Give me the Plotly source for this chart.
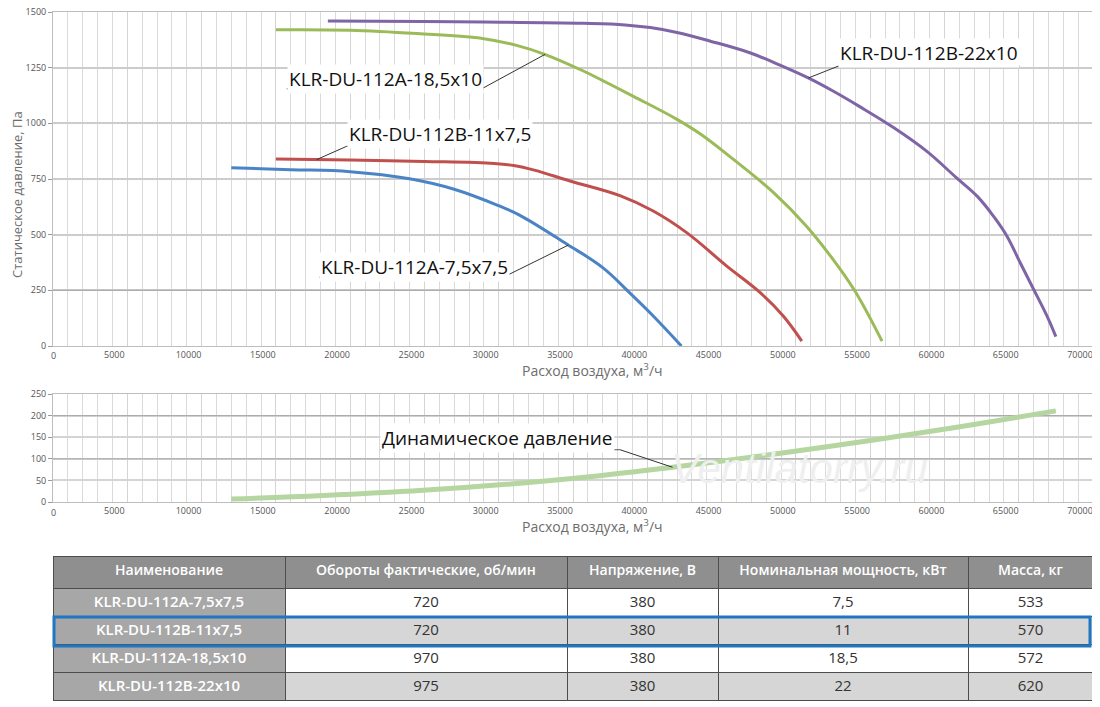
import numpy as np
import plotly.graph_objects as go

# --- fan curves: air flow (m3/h) vs static pressure (Pa)
q_75 = [12000, 16000, 20000, 24000, 27000, 30000, 31400, 34600, 37000, 38800, 40400, 42300]
p_75 = [800, 792, 783, 751, 704, 630, 588, 457, 352, 240, 135, 0]

q_11 = [15000, 20000, 25000, 29700, 31000, 32400, 34800, 38200, 40400, 42650, 45350, 47600, 49150, 50400]
p_11 = [840, 835, 829, 820, 811, 790, 741, 674, 606, 509, 359, 240, 135, 22]

q_185 = [15000, 20000, 24500, 29000, 31200, 33100, 35700, 37000, 39100, 42000, 43600, 45800, 48500, 50700, 52500, 53900, 54800, 55800]
p_185 = [1420, 1418, 1403, 1380, 1350, 1310, 1235, 1192, 1120, 1018, 951, 838, 689, 539, 389, 255, 150, 22]

q_22 = [18500, 25000, 29000, 35700, 38500, 40200, 42000, 44200, 46900, 48800, 50800, 52500, 54300,
        56600, 58800, 60800, 62200, 63300, 64200, 65100, 66000, 66900, 67500]
p_22 = [1460, 1457, 1455, 1449, 1442, 1430, 1408, 1370, 1317, 1265, 1205, 1145, 1075,
        980, 875, 756, 673, 583, 494, 374, 255, 135, 42]

# dynamic pressure
q_dyn = [12000, 18200, 24900, 30500, 36800, 42100, 48600, 55700, 62800, 67500]
p_dyn = [7, 15, 27, 41, 61, 82, 111, 146, 184, 211]

# --- table
headers = ["Наименование", "Обороты фактические, об/мин", "Напряжение, В",
           "Номинальная мощность, кВт", "Масса, кг"]
names = ["KLR-DU-112A-7,5x7,5", "KLR-DU-112B-11x7,5", "KLR-DU-112A-18,5x10", "KLR-DU-112B-22x10"]
rpm = [720, 720, 970, 975]
voltage = [380, 380, 380, 380]
power = ["7,5", "11", "18,5", "22"]
mass = [533, 570, 572, 620]

W, H = 1100, 707
OFF = 8  # page body margin
FONT = "Open Sans"
GRAY = "#6d6d6d"

def px_x(p):
    return (p - OFF) / W

def px_y(p):
    return 1 - (p - OFF) / H

fig = go.Figure()

curves = [
    (q_75, p_75, "#4a84c6", names[0]),
    (q_11, p_11, "#c0504d", names[1]),
    (q_185, p_185, "#9bbb59", names[2]),
    (q_22, p_22, "#7f64a6", names[3]),
]
for q, p, c, n in curves:
    fig.add_trace(go.Scatter(x=q, y=p, mode="lines", name=n,
                             line=dict(color=c, width=3, shape="spline", smoothing=1.1),
                             xaxis="x", yaxis="y"))

fig.add_trace(go.Scatter(x=q_dyn, y=p_dyn, mode="lines", name="Динамическое давление",
                         line=dict(color="#b5d6a0", width=5, shape="spline", smoothing=1.1),
                         xaxis="x2", yaxis="y2"))

fig.add_trace(go.Table(
    domain=dict(x=[px_x(53), px_x(1093)], y=[px_y(704), px_y(556)]),
    columnwidth=[232, 282, 151, 250, 125],
    header=dict(values=headers, fill_color="#8f8f8f", height=32,
                line=dict(color="#4d4d4d", width=1),
                font=dict(family=FONT, size=14, color="white", weight=600), align="center"),
    cells=dict(values=[names, rpm, voltage, power, mass], height=28,
               fill_color=[["#a7a7a7"] * 4] + [["white", "#d6d6d6", "white", "#d6d6d6"]] * 4,
               line=dict(color="#4d4d4d", width=1),
               font=dict(family=FONT, size=15,
                         color=[["white"] * 4] + [["#333333"] * 4] * 4,
                         weight=[600, 400, 400, 400, 400]),
               align="center"),
))

# label, text left x, text y, underline y, underline right x, leader start side, curve index, curve x
labels = [
    ("KLR-DU-112A-18,5x10", 15730, 1200, 1155, 28855, "right", 2, 33115),
    ("KLR-DU-112B-11x7,5", 19770, 953, 897, 31990, "left", 1, 17750),
    ("KLR-DU-112A-7,5x7,5", 17925, 354, 309, 30310, "right", 0, 34685),
    ("KLR-DU-112B-22x10", 52857, 1317, 1257, 65087, "left", 3, 50840),
]

annotations = []
shapes = []
for txt, x0, ty, uy, x1, side, ci, cx in labels:
    annotations.append(dict(x=x0, y=ty, xref="x", yref="y", text=txt, showarrow=False,
                            xanchor="left", yanchor="middle", bgcolor="white", borderpad=1,
                            font=dict(family=FONT, size=19, color="#111111")))
    shapes.append(dict(type="line", xref="x", yref="y", x0=x0, x1=x1, y0=uy, y1=uy,
                       line=dict(color="#555555", width=1)))
    sx = x1 if side == "right" else x0
    cy = float(np.interp(cx, curves[ci][0], curves[ci][1]))
    shapes.append(dict(type="line", xref="x", yref="y", x0=sx, y0=uy, x1=cx, y1=cy,
                       line=dict(color="#333333", width=1)))

# dynamic pressure label
annotations.append(dict(x=22010, y=149, xref="x2", yref="y2", text="Динамическое давление",
                        showarrow=False, xanchor="left", yanchor="middle", bgcolor="white",
                        borderpad=1, font=dict(family=FONT, size=19, color="#111111")))
shapes.append(dict(type="line", xref="x2", yref="y2", x0=22010, x1=38164, y0=121, y1=121,
                   line=dict(color="#555555", width=1)))
shapes.append(dict(type="line", xref="x2", yref="y2", x0=38164, y0=121, x1=41700,
                   y1=float(np.interp(41700, q_dyn, p_dyn)), line=dict(color="#333333", width=1)))

# "0" tick labels of the x axes (the others are shifted left)
for yref_px in [355, 512]:
    annotations.append(dict(x=0, y=px_y(yref_px), xref="x", yref="paper", text="0", showarrow=False,
                            xanchor="center", yanchor="middle",
                            font=dict(family=FONT, size=9, color="#555555")))

# axis titles
for yref_px in [370, 526]:
    annotations.append(dict(x=px_x(592), y=px_y(yref_px), xref="paper", yref="paper",
                            text="Расход воздуха, м<sup>3</sup>/ч", showarrow=False,
                            xanchor="center", yanchor="middle",
                            font=dict(family=FONT, size=14, color=GRAY)))
annotations.append(dict(x=px_x(17), y=px_y(195), xref="paper", yref="paper",
                        text="Статическое давление, Па", showarrow=False, textangle=-90,
                        xanchor="center", yanchor="middle",
                        font=dict(family=FONT, size=13, color=GRAY)))

# darker horizontal grid lines
for yv in [250]:
    shapes.append(dict(type="line", xref="x", yref="y", x0=0, x1=70000, y0=yv, y1=yv,
                       layer="between", line=dict(color="#a8a8a8", width=1)))
for yv in [100, 200]:
    shapes.append(dict(type="line", xref="x2", yref="y2", x0=0, x1=70000, y0=yv, y1=yv,
                       layer="between", line=dict(color="#a8a8a8", width=1)))

# highlighted table row
shapes.append(dict(type="rect", xref="paper", yref="paper",
                   x0=px_x(54), x1=px_x(1090), y0=px_y(646), y1=px_y(617),
                   line=dict(color="#2176c2", width=3)))

# watermark
annotations.append(dict(x=px_x(930), y=px_y(494), xref="paper", yref="paper", text="Ventilatorry.ru",
                        showarrow=False, font=dict(family="Liberation Sans", size=42,
                                                   color="#efefef", style="italic")))

tick_vals = list(range(5000, 70001, 5000))
xcommon = dict(range=[0, 70000], tickvals=tick_vals, ticktext=[str(v) for v in tick_vals],
               showgrid=True, gridcolor="#d4d4d4", gridwidth=1,
               minor=dict(dtick=1000, showgrid=True, gridcolor="#dadada", gridwidth=1),
               showline=True, linecolor="#bdbdbd", mirror=True, zeroline=False,
               tickfont=dict(family=FONT, size=9, color="#555555"), ticklabelshift=-13,
               ticklabeloverflow="allow", automargin=False, fixedrange=True)
ycommon = dict(zeroline=False, showline=True, linecolor="#bdbdbd", mirror=True,
               ticks="outside", ticklen=4, tickcolor="#999999",
               tickfont=dict(family=FONT, size=9, color="#555555"),
               ticklabeloverflow="allow", automargin=False, fixedrange=True)

fig.update_layout(
    width=W, height=H,
    margin=dict(l=0, r=0, t=0, b=0),
    paper_bgcolor="white", plot_bgcolor="white",
    showlegend=False,
    font=dict(family=FONT, color=GRAY),
    xaxis=dict(domain=[px_x(53), px_x(1093)], anchor="y", **xcommon),
    yaxis=dict(domain=[px_y(346), px_y(12)], anchor="x", range=[0, 1500], dtick=250,
               showgrid=True, gridcolor="#cccccc", gridwidth=1.5, **ycommon),
    xaxis2=dict(domain=[px_x(53), px_x(1093)], anchor="y2", **xcommon),
    yaxis2=dict(domain=[px_y(502), px_y(394)], anchor="x2", range=[0, 250], dtick=50,
                showgrid=True, gridcolor="#d4d4d4", gridwidth=1.5, **ycommon),
    annotations=annotations,
    shapes=shapes,
)

fig.write_html("out.html")
